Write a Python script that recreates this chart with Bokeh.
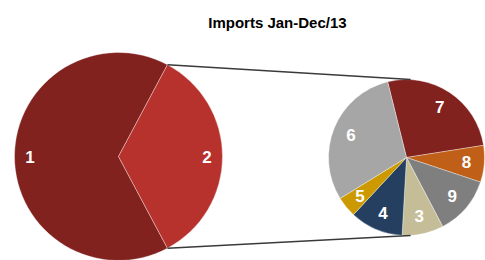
import math
from bokeh.plotting import figure
from bokeh.models import ColumnDataSource, Range1d
from bokeh.core.properties import value
from bokeh.embed import file_html
from bokeh.resources import INLINE

title_text = "Imports  Jan-Dec/13"

# primary pie (share of total, %)
main_cats = ["1", "2"]
main_vals = [65.6, 34.4]
main_colors = ["#82221f", "#b7312d"]

# secondary pie: breakdown of slice "2" (%), clockwise from top
sub_cats = ["7", "8", "9", "3", "4", "5", "6"]
sub_vals = [26.4, 7.6, 12.2, 8.6, 11.0, 4.3, 29.9]
sub_colors = ["#82221f", "#c05f18", "#7f7f7f", "#c4bd97", "#243f60", "#cc9a00", "#a6a6a6"]

W, H = 485, 260
FONT = "Liberation Sans"

p = figure(width=W, height=H, output_backend="svg", toolbar_location=None,
           x_range=Range1d(0, W), y_range=Range1d(0, H), min_border=0,
           outline_line_color=None, background_fill_color="white")
p.axis.visible = False
p.grid.visible = False

# geometry
cx1, cy1, r1 = 118, 104, 104
cx2, cy2, r2 = 406, 103, 78

# primary: slice 2 centred on the right horizontal
tot1 = sum(main_vals)
span2 = main_vals[1] / tot1 * 2 * math.pi
s2_start, s2_end = -span2 / 2, span2 / 2
starts1 = [s2_end, s2_start]
ends1 = [s2_start + 2 * math.pi, s2_end]
src1 = ColumnDataSource(dict(start=starts1, end=ends1, color=main_colors))
p.wedge(x=cx1, y=cy1, radius=r1, start_angle="start", end_angle="end",
        fill_color="color", line_color="white", line_width=0.6, line_alpha=0.6, source=src1)

mid1 = [(s + e) / 2 for s, e in zip(starts1, ends1)]
lx1 = [cx1 + 0.85 * r1 * math.cos(m) for m in mid1]
ly1 = [cy1 + 0.85 * r1 * math.sin(m) for m in mid1]

# secondary: start at 104 deg, going clockwise
tot2 = sum(sub_vals)
top = math.radians(104)
starts2, ends2 = [], []
acc = 0.0
for v in sub_vals:
    span = v / tot2 * 2 * math.pi
    e = top - acc
    s = e - span
    starts2.append(s)
    ends2.append(e)
    acc += span
src2 = ColumnDataSource(dict(start=starts2, end=ends2, color=sub_colors))
p.wedge(x=cx2, y=cy2, radius=r2, start_angle="start", end_angle="end",
        fill_color="color", line_color="white", line_width=0.6, line_alpha=0.6, source=src2)

mid2 = [(s + e) / 2 for s, e in zip(starts2, ends2)]
lx2 = [cx2 + 0.77 * r2 * math.cos(m) for m in mid2]
ly2 = [cy2 + 0.77 * r2 * math.sin(m) for m in mid2]

# connector lines
a_top = math.radians(87)
p.line([cx1 + r1 * math.cos(s2_end), cx2 + r2 * math.cos(a_top)],
       [cy1 + r1 * math.sin(s2_end), cy2 + r2 * math.sin(a_top)],
       line_color="#3a3a3a", line_width=1.5)
p.line([cx1 + r1 * math.cos(s2_start), cx2 + r2 * math.cos(-a_top)],
       [cy1 + r1 * math.sin(s2_start), cy2 + r2 * math.sin(-a_top)],
       line_color="#3a3a3a", line_width=1.5)

# labels
lab = ColumnDataSource(dict(x=lx1 + lx2, y=ly1 + ly2, t=main_cats + sub_cats))
p.text(x="x", y="y", text="t", source=lab, text_color="white",
       text_font=value(FONT), text_font_style="bold", text_font_size="17px",
       text_align="center", text_baseline="middle")

# title
p.text(x=[279], y=[238], text=[title_text], text_color="black",
       text_font=value(FONT), text_font_style="bold", text_font_size="15px",
       text_align="center", text_baseline="middle")

open("out.html", "w").write(file_html(p, INLINE))
